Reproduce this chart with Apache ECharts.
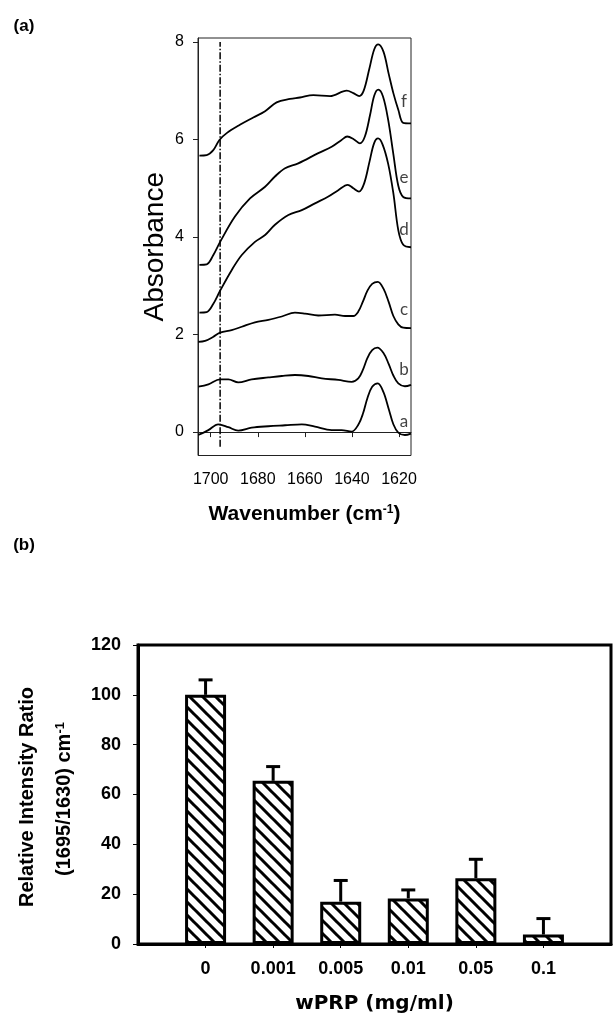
<!DOCTYPE html>
<html>
<head>
<meta charset="utf-8">
<title>FTIR spectra and relative intensity ratio</title>
<script src="https://cdn.jsdelivr.net/npm/echarts@6/dist/echarts.min.js"></script>
<style>
  html, body { margin: 0; padding: 0; background: #fff; }
  #chart { width: 614px; height: 1015px; }
</style>
</head>
<body>
<div id="chart"></div>
<script>
// ---- panel (a): spectra, [wavenumber, absorbance] ----
const specA = [[1705.3,-0.06],[1701.0,0.04],[1696.8,0.16],[1692.5,0.10],[1688.3,0.03],[1682.6,0.09],[1675.5,0.12],[1668.4,0.14],[1661.3,0.16],[1655.7,0.11],[1648.6,0.04],[1644.4,0.04],[1640.1,0.01],[1637.3,0.15],[1635.3,0.38],[1633.4,0.70],[1631.4,0.93],[1629.0,1.00],[1626.6,0.82],[1624.4,0.48],[1622.4,0.16],[1620.3,-0.01],[1617.5,-0.06],[1614.9,-0.03]];
const specB = [[1705.3,0.93],[1701.0,0.98],[1696.0,1.08],[1692.5,1.08],[1688.3,1.02],[1682.6,1.08],[1675.5,1.12],[1669.8,1.15],[1664.2,1.17],[1658.5,1.15],[1652.8,1.10],[1645.8,1.07],[1640.1,1.03],[1637.3,1.10],[1635.3,1.28],[1633.4,1.52],[1631.4,1.68],[1629.2,1.73],[1626.6,1.62],[1624.4,1.40],[1622.4,1.16],[1620.3,1.00],[1617.5,0.94],[1614.9,0.97]];
const specC = [[1705.3,1.85],[1702.4,1.87],[1699.0,1.95],[1696.0,2.04],[1691.1,2.09],[1686.8,2.16],[1681.2,2.25],[1675.5,2.30],[1669.8,2.37],[1664.2,2.45],[1659.9,2.43],[1654.3,2.39],[1647.2,2.41],[1642.9,2.38],[1639.4,2.38],[1637.3,2.47],[1635.3,2.68],[1633.4,2.90],[1631.4,3.04],[1629.0,3.08],[1626.6,2.94],[1624.4,2.67],[1622.4,2.38],[1620.3,2.21],[1618.2,2.14],[1614.9,2.13]];
const specD = [[1704.8,2.45],[1701.7,2.46],[1699.0,2.62],[1696.0,2.90],[1691.1,3.32],[1686.8,3.63],[1681.2,3.90],[1676.9,4.04],[1672.7,4.25],[1667.0,4.45],[1661.3,4.55],[1655.7,4.69],[1650.0,4.83],[1645.8,4.96],[1641.8,5.07],[1639.4,5.00],[1637.0,4.93],[1634.8,5.10],[1632.5,5.55],[1630.6,5.92],[1628.9,6.02],[1627.0,5.90],[1624.6,5.50],[1622.4,4.90],[1620.3,4.14],[1618.2,3.84],[1614.9,3.79]];
const specE = [[1704.8,3.43],[1701.7,3.44],[1699.0,3.62],[1696.0,3.90],[1689.7,4.42],[1683.3,4.79],[1676.9,5.03],[1672.7,5.24],[1668.4,5.41],[1662.8,5.51],[1654.3,5.72],[1648.6,5.85],[1644.4,5.99],[1642.0,6.06],[1639.1,6.00],[1636.6,5.92],[1634.5,6.06],[1632.3,6.50],[1630.5,6.90],[1628.8,7.02],[1626.8,6.88],[1624.6,6.40],[1622.4,5.70],[1620.3,5.05],[1618.2,4.82],[1614.9,4.79]];
const specF = [[1704.8,5.67],[1701.7,5.68],[1698.9,5.78],[1696.3,5.99],[1693.2,6.13],[1687.6,6.30],[1681.9,6.45],[1676.9,6.58],[1672.0,6.76],[1666.3,6.83],[1662.1,6.86],[1656.4,6.91],[1649.3,6.89],[1642.2,7.00],[1639.4,6.95],[1636.9,6.89],[1635.0,7.00],[1632.6,7.45],[1630.5,7.85],[1628.8,7.95],[1626.6,7.80],[1624.4,7.35],[1622.4,6.95],[1620.3,6.61],[1618.2,6.34],[1614.9,6.33]];
const spectra = [specA, specB, specC, specD, specE, specF];
const curveNames = ['a', 'b', 'c', 'd', 'e', 'f'];
const curveLabelY = [0.21, 1.29, 2.51, 4.16, 5.21, 6.77];
const markWavenumber = 1696;
const markSpan = [-0.3, 8.0];
const xTicksA = [1620, 1640, 1660, 1680, 1700];
const yTicksA = [0, 2, 4, 6, 8];

// ---- panel (b): relative intensity ratio ----
const conc = ['0', '0.001', '0.005', '0.01', '0.05', '0.1'];
const ratio = [100, 65.5, 17, 18.3, 26.4, 3.8];
const ratioErr = [6, 5.7, 8.5, 3.4, 7.6, 6.4];

const SANS = '"Liberation Sans", Arial, sans-serif';

// diagonal hatch fill for the bars
function hatch() {
  const s = 13;
  const c = document.createElement('canvas');
  c.width = c.height = s;
  const g = c.getContext('2d');
  g.fillStyle = '#fff';
  g.fillRect(0, 0, s, s);
  g.strokeStyle = '#000';
  g.lineWidth = 3;
  g.beginPath();
  for (const o of [-s, 0, s]) {
    g.moveTo(o - 1, -1);
    g.lineTo(o + s + 1, s + 1);
  }
  g.stroke();
  return c;
}

const chart = echarts.init(document.getElementById('chart'));

const spectraSeries = spectra.map((d, i) => ({
  name: curveNames[i],
  type: 'line',
  xAxisIndex: 0,
  yAxisIndex: 0,
  data: d,
  smooth: 0.35,
  showSymbol: false,
  lineStyle: { color: '#000', width: 1.8 },
  z: 2
}));

const option = {
  animation: false,
  textStyle: { fontFamily: SANS },
  grid: [
    { left: 198, top: 38, width: 213, height: 417.5, show: true, borderColor: '#222', borderWidth: 1 },
    { left: 138, top: 645, width: 474, height: 302, show: true, borderColor: '#000', borderWidth: 3 }
  ],
  xAxis: [
    {
      type: 'value', gridIndex: 0, min: 1614.9, max: 1705.4, inverse: true,
      axisLine: { show: true, lineStyle: { color: '#222', width: 1 } },
      axisTick: { show: true, customValues: xTicksA, length: 5, lineStyle: { color: '#222' } },
      axisLabel: { customValues: xTicksA, formatter: v => String(v), fontSize: 16, color: '#000', margin: 16 },
      splitLine: { show: false },
      name: 'Wavenumber (cm{s|-1})',
      nameLocation: 'middle', nameGap: 48,
      nameTextStyle: {
        fontSize: 21, fontWeight: 'bold', color: '#000', fontFamily: SANS,
        rich: { s: { fontSize: 12, fontWeight: 'bold', verticalAlign: 'top', color: '#000', fontFamily: SANS } }
      }
    },
    {
      type: 'category', gridIndex: 1, data: [''].concat(conc, ['']), boundaryGap: false,
      axisLine: { lineStyle: { color: '#000', width: 3 } },
      axisTick: { interval: (i) => i > 0 && i <= conc.length, length: 4, lineStyle: { color: '#000', width: 1 } },
      axisLabel: { interval: 0, fontSize: 18, fontWeight: 'bold', color: '#000', margin: 16 },
      name: 'wPRP (mg/ml)',
      nameLocation: 'middle', nameGap: 50,
      nameTextStyle: { fontSize: 20, fontWeight: 'bold', color: '#000', fontFamily: '"DejaVu Sans", sans-serif' }
    }
  ],
  yAxis: [
    {
      type: 'value', gridIndex: 0, min: -0.48, max: 8.08,
      axisLine: { show: true, lineStyle: { color: '#222', width: 1 } },
      axisTick: { show: true, customValues: yTicksA, length: 5, lineStyle: { color: '#222' } },
      axisLabel: { customValues: yTicksA, formatter: v => String(v), fontSize: 16, color: '#000', margin: 14 },
      splitLine: { show: false },
      name: 'Absorbance',
      nameLocation: 'middle', nameGap: 29,
      nameTextStyle: { fontSize: 28, color: '#000', fontFamily: SANS }
    },
    {
      type: 'value', gridIndex: 1, min: 0, max: 120, interval: 20,
      axisLine: { show: true, lineStyle: { color: '#000', width: 3 } },
      axisTick: { show: true, length: 5, lineStyle: { color: '#000', width: 1 } },
      axisLabel: { fontSize: 18, fontWeight: 'bold', color: '#000', margin: 17 },
      splitLine: { show: false }
    }
  ],
  series: spectraSeries.concat([
    {
      // reference line at the 1695 band
      type: 'line', xAxisIndex: 0, yAxisIndex: 0,
      data: markSpan.map(v => [markWavenumber, v]),
      showSymbol: false,
      lineStyle: { color: '#000', width: 1.5, type: [7, 2, 1.5, 2] },
      z: 1
    },
    {
      type: 'scatter', xAxisIndex: 0, yAxisIndex: 0,
      symbolSize: 0,
      itemStyle: { color: '#000' },
      data: curveNames.map((n, i) => ({ name: n, value: [1617.9, curveLabelY[i]] })),
      label: {
        show: true, position: 'inside', formatter: '{b}',
        fontFamily: 'Lato, "Open Sans", sans-serif', fontSize: 17, color: '#111',
        textBorderWidth: 0
      },
      z: 3
    },
    {
      type: 'bar', xAxisIndex: 1, yAxisIndex: 1,
      data: ratio.map((v, i) => [i + 1, v]),
      barWidth: 41,
      itemStyle: { color: { image: hatch(), repeat: 'repeat' }, borderColor: '#000', borderWidth: 3 },
      z: 2
    },
    {
      type: 'custom', xAxisIndex: 1, yAxisIndex: 1,
      data: ratio.map((v, i) => [i + 1, v, v + ratioErr[i]]),
      renderItem(params, api) {
        const base = api.coord([api.value(0), api.value(1)]);
        const top = api.coord([api.value(0), api.value(2)]);
        const style = { stroke: '#000', lineWidth: 3 };
        return {
          type: 'group',
          children: [
            { type: 'line', shape: { x1: base[0], y1: base[1], x2: top[0], y2: top[1] }, style },
            { type: 'line', shape: { x1: top[0] - 7, y1: top[1], x2: top[0] + 7, y2: top[1] }, style }
          ]
        };
      },
      z: 3
    }
  ]),
  graphic: [
    { type: 'text', x: 24, y: 26, style: { text: '(a)', font: 'bold 17px ' + SANS, fill: '#000', align: 'center', verticalAlign: 'middle' } },
    { type: 'text', x: 24, y: 545, style: { text: '(b)', font: 'bold 17px ' + SANS, fill: '#000', align: 'center', verticalAlign: 'middle' } },
    {
      type: 'text', x: 27, y: 797, rotation: Math.PI / 2,
      style: { text: 'Relative Intensity Ratio', font: 'bold 20px ' + SANS, fill: '#000', align: 'center', verticalAlign: 'middle' }
    },
    {
      type: 'text', x: 64, y: 799, rotation: Math.PI / 2,
      style: {
        text: '(1695/1630) cm{s|-1}', font: 'bold 20px ' + SANS, fill: '#000', align: 'center', verticalAlign: 'middle',
        rich: { s: { font: 'bold 13px ' + SANS, verticalAlign: 'top', fill: '#000' } }
      }
    }
  ]
};

chart.setOption(option);
</script>
</body>
</html>
